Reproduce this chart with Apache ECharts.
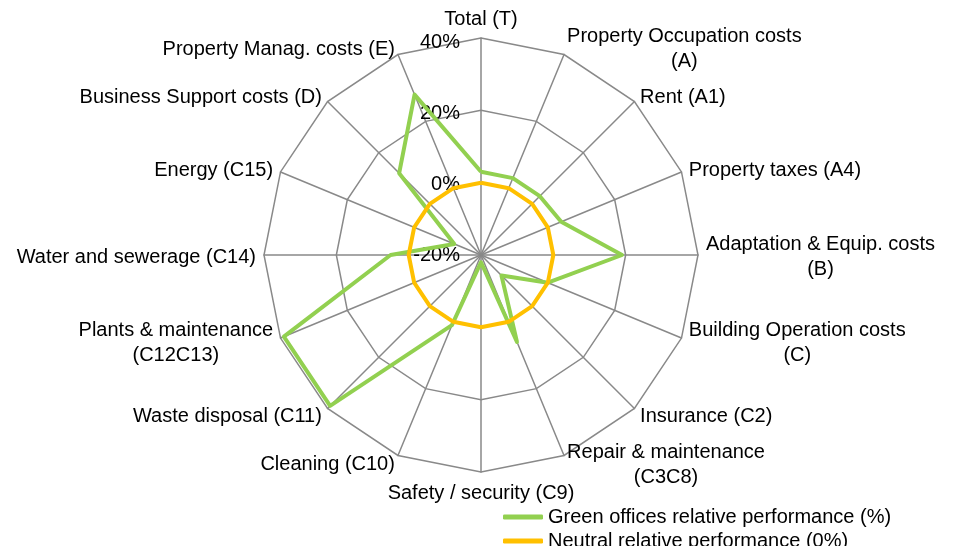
<!DOCTYPE html>
<html>
<head>
<meta charset="utf-8">
<script src="https://cdn.jsdelivr.net/npm/echarts@6/dist/echarts.min.js"></script>
<style>
html,body{margin:0;padding:0;background:#fff;}
#chart{width:954px;height:546px;}
</style>
</head>
<body>
<div id="chart"></div>
<script>
// Categories in clockwise order starting from the top
var categories = [
  'Total (T)',
  'Property Occupation costs\n(A)',
  'Rent (A1)',
  'Property taxes (A4)',
  'Adaptation & Equip. costs\n(B)',
  'Building Operation costs\n(C)',
  'Insurance (C2)',
  'Repair & maintenance\n(C3C8)',
  'Safety / security (C9)',
  'Cleaning (C10)',
  'Waste disposal (C11)',
  'Plants & maintenance\n(C12C13)',
  'Water and sewerage (C14)',
  'Energy (C15)',
  'Business Support costs (D)',
  'Property Manag. costs (E)'
];
var greenValues   = [3, 3, 3, 4, 19, 0, -12, 6, -18, 1, 39, 39, 5, -12, 12, 28];
var neutralValues = [0, 0, 0, 0, 0, 0, 0, 0, 0, 0, 0, 0, 0, 0, 0, 0];
var seriesNames = ['Green offices relative performance (%)', 'Neutral relative performance (0%)'];
var tickValues = [-20, 0, 20, 40];
var axisMin = -20, axisMax = 40;

// ECharts radar places indicators counter-clockwise; reorder to get clockwise layout
var order = [0];
for (var i = categories.length - 1; i >= 1; i--) order.push(i);
function reorder(arr) { return order.map(function (k) { return arr[k]; }); }

var FONT = '"Liberation Sans", Arial, sans-serif';
var chart = echarts.init(document.getElementById('chart'));
chart.setOption({
  backgroundColor: '#ffffff',
  animation: false,
  legend: {
    orient: 'vertical',
    left: 498,
    top: 501,
    height: 100,
    itemGap: 2,
    itemWidth: 40,
    itemHeight: 5,
    icon: 'roundRect',
    selectedMode: false,
    textStyle: { color: '#000', fontSize: 20, fontFamily: FONT, lineHeight: 22 },
    data: seriesNames
  },
  grid: { left: 481, top: 42, width: 10, height: 213, show: false },
  xAxis: { type: 'value', show: false, min: 0, max: 1 },
  yAxis: {
    type: 'value', min: axisMin, max: axisMax, interval: 20,
    axisLine: { show: false }, axisTick: { show: false }, splitLine: { show: false },
    axisLabel: { margin: 21, fontSize: 20, fontFamily: FONT, color: '#000',
      formatter: function (v) { return tickValues.indexOf(v) >= 0 ? v + '%' : ''; } }
  },
  radar: {
    center: [481, 255],
    radius: 217,
    startAngle: 90,
    shape: 'polygon',
    splitNumber: 3,
    nameGap: 8,
    axisName: {
      color: '#000',
      fontSize: 20,
      fontFamily: FONT,
      verticalAlign: 'middle',
      formatter: function (name) {
        var style = 'c';
        if (name === categories[0]) style = 't';
        if (name === categories[8]) style = 'b';
        return name.split('\n').map(function (l) { return '{' + style + '|' + l + '}'; }).join('\n');
      },
      rich: {
        c: { align: 'center', lineHeight: 25, fontSize: 20, fontFamily: FONT, color: '#000', padding: [4, 0, 0, 0] },
        t: { align: 'center', lineHeight: 25, fontSize: 20, fontFamily: FONT, color: '#000', padding: [2, 0, 24, 0] },
        b: { align: 'center', lineHeight: 25, fontSize: 20, fontFamily: FONT, color: '#000', padding: [27, 0, 0, 0] }
      }
    },
    axisLine: { lineStyle: { color: '#898989', width: 1.5 } },
    splitLine: { lineStyle: { color: '#898989', width: 1.5 } },
    splitArea: { show: false },
    axisTick: { show: false },
    axisLabel: { show: false },
    indicator: reorder(categories).map(function (n) { return { name: n, min: axisMin, max: axisMax }; })
  },
  series: [
    {
      type: 'radar', symbol: 'none',
      lineStyle: { color: '#92D050', width: 4 },
      itemStyle: { color: '#92D050' },
      data: [{ name: seriesNames[0], value: reorder(greenValues) }]
    },
    {
      type: 'radar', symbol: 'none',
      lineStyle: { color: '#FFC000', width: 4 },
      itemStyle: { color: '#FFC000' },
      data: [{ name: seriesNames[1], value: reorder(neutralValues) }]
    }
  ]
});
</script>
</body>
</html>
